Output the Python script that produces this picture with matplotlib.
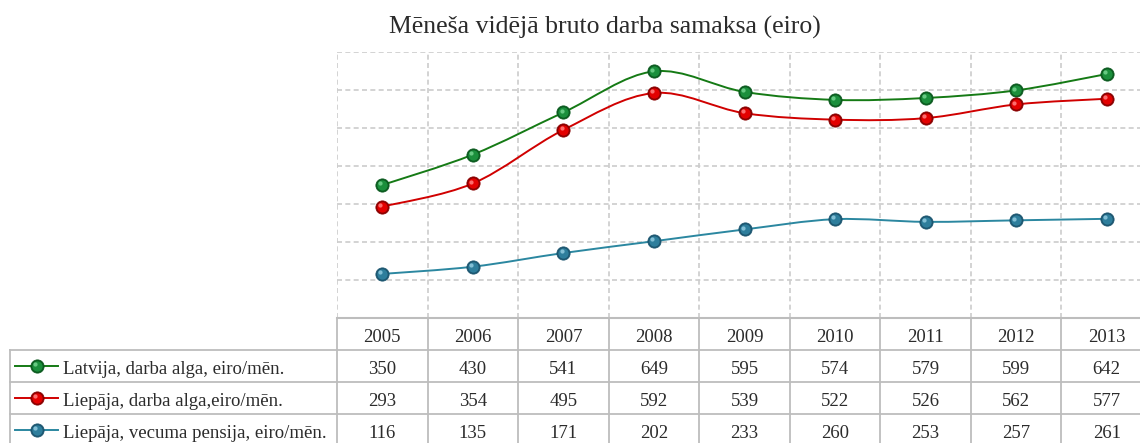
import numpy as np
import matplotlib.pyplot as plt
from matplotlib.path import Path
from matplotlib.patches import PathPatch
import matplotlib.transforms as mtransforms

YEARS   = ['2005', '2006', '2007', '2008', '2009', '2010', '2011', '2012', '2013']
LABELS  = ['Latvija, darba alga, eiro/mēn.',
           'Liepāja, darba alga,eiro/mēn.',
           'Liepāja, vecuma pensija, eiro/mēn.']
LATVIJA = [350, 430, 541, 649, 595, 574, 579, 599, 642]
LIEPAJA = [293, 354, 495, 592, 539, 522, 526, 562, 577]
PENSIJA = [116, 135, 171, 202, 233, 260, 253, 257, 261]
SERIES  = [LATVIJA, LIEPAJA, PENSIJA]

LINE_COLORS = ['#157a15', '#d00000', '#2b87a0']
BALL_DARK   = ['#0b5a1f', '#8a0000', '#1c5670']
BALL_MID    = ['#1b8f3c', '#e30000', '#2e7e9c']
BALL_LIGHT  = ['#6fd08a', '#ff7a7a', '#8cc7dc']

GRID = '#cccccc'
TBL  = '#bdbdbd'
TXT  = '#2b2b2b'

plt.rcParams['font.family'] = ['Liberation Serif', 'DejaVu Serif']

W, H = 1140, 443
fig = plt.figure(figsize=(W / 100, H / 100), dpi=100)
ax_l, ax_r, ax_t, ax_b = 337, 1152, 52, 318
ax = fig.add_axes([ax_l / W, 1 - ax_b / H, (ax_r - ax_l) / W, (ax_b - ax_t) / H])

x = np.arange(len(YEARS))
ax.set_xlim(-0.5, len(YEARS) - 0.5)
ax.set_ylim(0, 700)
ax.set_yticks(np.arange(0, 701, 100))
ax.set_xticks(np.arange(-0.5, len(YEARS), 1))
ax.tick_params(length=0, labelleft=False, labelbottom=False)
ax.grid(True, color=GRID, linewidth=1.2, dashes=(3, 2))
for s in ['top', 'right', 'left']:
    ax.spines[s].set_visible(False)
ax.spines['bottom'].set_color(TBL)
ax.spines['bottom'].set_linewidth(1.5)


def smooth_path(xs, ys):
    # Excel-like smoothing: cubic Bezier through every point
    pts = np.column_stack([xs, ys]).astype(float)
    n = len(pts)
    verts = [pts[0]]
    codes = [Path.MOVETO]
    for i in range(n - 1):
        p0 = pts[i - 1] if i > 0 else pts[i]
        p1, p2 = pts[i], pts[i + 1]
        p3 = pts[i + 2] if i + 2 < n else pts[i + 1]
        c1 = p1 + (p2 - p0) / 6
        c2 = p2 - (p3 - p1) / 6
        verts += [c1, c2, p2]
        codes += [Path.CURVE4] * 3
    return Path(verts, codes)


def ball(axis, xs, ys, i, transform, size=9.5):
    hl = mtransforms.ScaledTranslation(-1.3 / 72, 1.3 / 72, fig.dpi_scale_trans)
    axis.plot(xs, ys, 'o', ms=size, mfc=BALL_DARK[i], mec=BALL_DARK[i], mew=0.6,
              transform=transform, zorder=5, clip_on=False)
    axis.plot(xs, ys, 'o', ms=size * 0.78, mfc=BALL_MID[i], mec='none',
              transform=transform, zorder=6, clip_on=False)
    axis.plot(xs, ys, 'o', ms=size * 0.32, mfc=BALL_LIGHT[i], mec='none',
              transform=transform + hl, zorder=7, clip_on=False, alpha=0.9)


for i, vals in enumerate(SERIES):
    ax.add_patch(PathPatch(smooth_path(x, vals), fill=False, edgecolor=LINE_COLORS[i],
                           linewidth=1.4, zorder=4, transform=ax.transData))
    ball(ax, x, vals, i, ax.transData)

fig.text(605 / W, 1 - 27 / H, 'Mēneša vidējā bruto darba samaksa (eiro)',
         ha='center', va='center', fontsize=18.5, color=TXT)

# data table under the chart
row_h = 32 / (ax_b - ax_t)
shift = 3 / (ax_b - ax_t)
tr_col = ax.get_xaxis_transform()
tr_fig = mtransforms.blended_transform_factory(fig.transFigure, ax.transAxes)
left_edge = 10 / W
kw = dict(color=TBL, linewidth=1.3, clip_on=False)

for k in range(len(YEARS) + 1):
    ax.plot([k - 0.5, k - 0.5], [0, -4 * row_h], transform=tr_col, **kw)
for r in range(1, 4):
    ax.plot([left_edge, 1.0], [-r * row_h, -r * row_h], transform=tr_fig, **kw)
ax.plot([left_edge, left_edge], [-row_h, -4 * row_h], transform=tr_fig, **kw)

for j, yr in enumerate(YEARS):
    ax.text(j, -0.5 * row_h - shift, yr, transform=tr_col, ha='center', va='center',
            fontsize=13.5, color=TXT, clip_on=False)

for i, (lab, vals) in enumerate(zip(LABELS, SERIES)):
    yc = -(i + 1.5) * row_h
    ax.plot([15 / W, 58 / W], [yc, yc], color=LINE_COLORS[i], linewidth=1.4,
            transform=tr_fig, clip_on=False)
    ball(ax, [37 / W], [yc], i, tr_fig)
    ax.text(63 / W, yc - shift, lab, transform=tr_fig, ha='left', va='center',
            fontsize=13.5, color=TXT, clip_on=False)
    for j, v in enumerate(vals):
        ax.text(j, yc - shift, str(v), transform=tr_col, ha='center', va='center',
                fontsize=13.5, color=TXT, clip_on=False)

fig.savefig('out.png', dpi=100)
